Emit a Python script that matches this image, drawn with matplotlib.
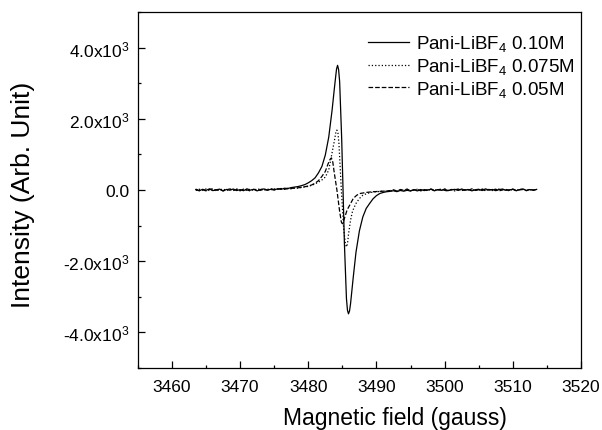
import numpy as np
import matplotlib
matplotlib.use('Agg')
import matplotlib.pyplot as plt
from matplotlib.ticker import MultipleLocator, FuncFormatter

plt.rcParams['font.family'] = ['Liberation Sans', 'DejaVu Sans']
plt.rcParams['mathtext.fontset'] = 'custom'
plt.rcParams['mathtext.rm'] = 'Liberation Sans'
plt.rcParams['mathtext.it'] = 'Liberation Sans'

# ---- datos (campo en gauss, intensidad en u.a.) ----
labels = ['Pani-LiBF$_4$ 0.10M', 'Pani-LiBF$_4$ 0.075M', 'Pani-LiBF$_4$ 0.05M']

# linea base izquierda / derecha (mismo muestreo para las tres series)
x_left = np.arange(3463.5, 3478.0, 0.5)
x_right = np.arange(3492.0, 3514.0, 0.5)

# 0.10M
base_l_010 = [10, -25, 18, -12, 30, -20, 5, 22, -30, 14, -8, 26, -18, 9, -22, 31, -5, 17, -27, 12,
              28, -10, 20, -6, 35, 15, 48, 40, 66]
core_x_010 = [3478, 3478.5, 3479, 3479.5, 3480, 3480.5, 3481, 3481.5, 3482, 3482.5, 3483, 3483.5,
              3483.8, 3484.0, 3484.15, 3484.3, 3484.45, 3484.6, 3484.9, 3485.1, 3485.3, 3485.6,
              3485.75, 3485.9, 3486.05, 3486.2, 3486.6, 3487.0,
              3487.5, 3488.0, 3488.5, 3489.0, 3489.5, 3490.0, 3490.5, 3491.0, 3491.5]
core_y_010 = [80, 95, 120, 150, 200, 260, 340, 480, 660, 980, 1480, 2250,
              2800, 3150, 3400, 3500, 3380, 3050, 1450, 0, -1500, -3050,
              -3380, -3480, -3400, -3200, -2450, -1750,
              -1150, -760, -520, -380, -250, -160, -100, -70, -50]
base_r_010 = [-40, -22, -48, -15, -35, -10, -30, 5, -28, 12, -18, -2, 20, -25, 8, -12, 24, -20, 3, 16,
              -14, 27, -9, 11, -26, 6, 19, -17, 30, -4, 13, -21, 9, 25, -11, 2, 18, -23, 7, 28,
              -15, 10, -6, 14]

# 0.075M
base_l_075 = [-15, 20, -8, 27, -20, 12, -28, 6, 24, -14, 18, -5, 30, -22, 10, -16, 25, -9, 15, 32,
              -12, 22, 8, 28, 14, 38, 20, 45, 30]
core_x_075 = [3478, 3478.5, 3479, 3479.5, 3480, 3480.5, 3481, 3481.5, 3482, 3482.5, 3483, 3483.5,
              3483.8, 3484.05, 3484.2, 3484.35, 3484.5, 3484.85, 3485.2, 3485.45, 3485.6, 3485.75,
              3485.9, 3486.2, 3486.5, 3487.0,
              3487.5, 3488.0, 3488.6, 3489.2, 3490.0, 3491.0]
core_y_075 = [55, 50, 70, 85, 100, 130, 170, 220, 280, 360, 560, 1050,
              1350, 1620, 1680, 1600, 1300, 0, -1100, -1520, -1600, -1520,
              -1250, -850, -590, -380,
              -240, -150, -100, -70, -50, -35]
base_r_075 = [-30, -12, -35, 4, -20, 15, -26, -3, 18, -14, 9, -24, 21, -6, 12, -19, 26, -10, 5, -28,
              17, 2, -15, 23, -8, 11, -22, 29, -3, 14, -17, 6, 24, -12, 1, -25, 19, -7, 13, 27,
              -20, 8, -11, 16]

# 0.05M
base_l_005 = [22, -18, 7, -27, 15, 33, -10, 19, -24, 4, 28, -15, 11, -20, 24, 1, -29, 16, 9, -12,
              26, -4, 33, 12, 21, 40, 18, 35, 44]
core_x_005 = [3478, 3478.5, 3479, 3479.5, 3480, 3480.5, 3481, 3481.5, 3482, 3482.5, 3482.9, 3483.2,
              3483.4, 3483.6, 3483.8, 3484.2, 3484.6, 3484.85, 3485.0, 3485.15, 3485.3, 3485.7,
              3486.1, 3486.6, 3487.1, 3487.6,
              3488.5, 3489.5, 3490.5, 3491.5]
core_y_005 = [50, 60, 75, 90, 110, 140, 190, 260, 380, 520, 730, 860,
              900, 780, 500, 0, -600, -900, -950, -900, -800, -560,
              -420, -240, -150, -100,
              -70, -50, -40, -30]
base_r_005 = [-18, 5, -31, 12, -9, 24, -22, 3, 16, -27, 10, -5, 28, -16, 7, 20, -12, -30, 14, 2,
              25, -19, 9, -8, 31, -14, 4, 18, -24, 11, -2, 22, -28, 6, 15, -10, 27, -17, 3, 12,
              -21, 19, -6, 8]


def serie(bl, cx, cy, br):
    x = np.concatenate([x_left, cx, x_right])
    y = np.concatenate([bl, cy, br])
    return x, y


series = [serie(base_l_010, core_x_010, core_y_010, base_r_010),
          serie(base_l_075, core_x_075, core_y_075, base_r_075),
          serie(base_l_005, core_x_005, core_y_005, base_r_005)]
estilos = ['-', ':', '--']

fig = plt.figure(figsize=(6.02, 4.31), dpi=100)
ax = fig.add_axes([0.229, 0.144, 0.736, 0.826])

for (x, y), ls, lab in zip(series, estilos, labels):
    ax.plot(x, y, ls, color='black', lw=0.9, label=lab)

ax.set_xlim(3455, 3520)
ax.set_ylim(-5000, 5000)
ax.xaxis.set_major_locator(MultipleLocator(10))
ax.xaxis.set_minor_locator(MultipleLocator(5))
ax.yaxis.set_major_locator(MultipleLocator(2000))
ax.yaxis.set_minor_locator(MultipleLocator(1000))


def fmt_y(v, pos):
    if abs(v) < 1e-6:
        return '0.0'
    return '%.1fx10$^{3}$' % (v / 1000.0)


ax.yaxis.set_major_formatter(FuncFormatter(fmt_y))
ax.tick_params(which='both', direction='in', labelsize=12.5, width=0.9)
ax.tick_params(which='major', length=5)
ax.tick_params(which='minor', length=2.5)
ax.tick_params(axis='x', pad=8)
ax.tick_params(axis='y', pad=6)
for s in ax.spines.values():
    s.set_linewidth(0.9)

ax.set_xlabel('Magnetic field (gauss)', fontsize=16.5)
ax.set_ylabel('Intensity (Arb. Unit)', fontsize=19)
ax.xaxis.set_label_coords(0.58, -0.106)
ax.yaxis.set_label_coords(-0.232, 0.49)

ax.legend(loc='upper right', bbox_to_anchor=(0.985, 0.94), frameon=False, fontsize=13.5,
          handlelength=2.2, labelspacing=0.15, handletextpad=0.35, borderaxespad=0,
          borderpad=0)

fig.savefig('out.png', dpi=100)
